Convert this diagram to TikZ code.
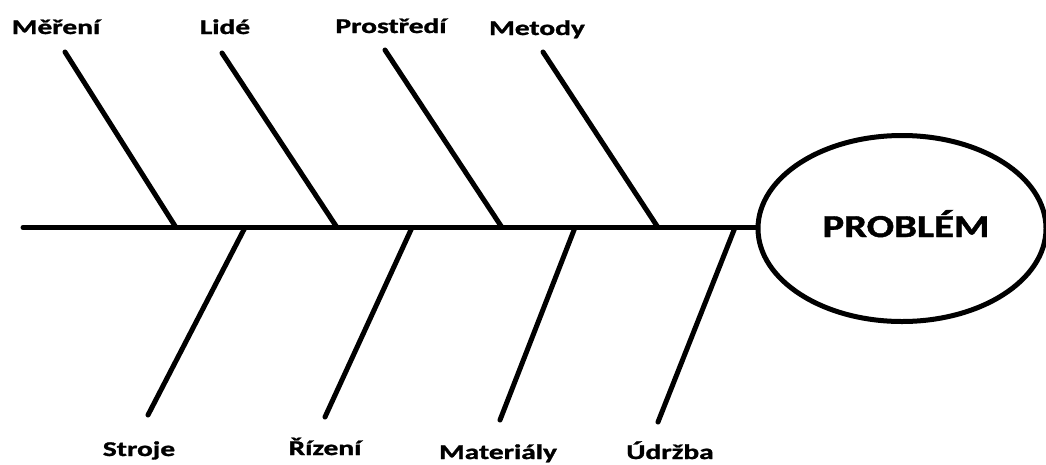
\documentclass[tikz,border=0pt]{standalone}
\usepackage{fontspec}
\setmainfont{Carlito}
\newfontfamily\lblfont{Carlito Bold}[FakeBold=1.2]
\usepackage{graphicx}
\usetikzlibrary{shapes.geometric}
\tikzset{
  bone/.style={line width=5pt, line cap=round, black},
  lbl/.style={anchor=base, inner sep=0pt, font=\fontsize{21}{24}\lblfont},
  head/.style={ellipse, draw, line width=5pt, minimum width=288pt, minimum height=186pt, inner sep=0pt}
}
\newcommand\wide[2]{\scalebox{#1}[1]{#2}}
\begin{document}
\begin{tikzpicture}[x=1pt,y=-1pt]
\useasboundingbox (0,0) rectangle (1046,464);
\node[head] (prob) at (902,228.5) {};
\node[anchor=base, inner sep=0pt, font=\fontsize{32}{36}\lblfont] (pt) at (906,237) {\wide{1.27}{PROBLÉM}};
\coordinate (tail) at (23,227.5);
\draw[bone] (tail) -- (tail -| prob.west);
% upper bones
\coordinate (u1) at (65,52);   \coordinate (s1) at (176,227.5);
\coordinate (u2) at (222,53);  \coordinate (s2) at (337,227.5);
\coordinate (u3) at (385,50);  \coordinate (s3) at (502,227.5);
\coordinate (u4) at (543,52);  \coordinate (s4) at (658,227.5);
\draw[bone] (u1) -- (s1);
\draw[bone] (u2) -- (s2);
\draw[bone] (u3) -- (s3);
\draw[bone] (u4) -- (s4);
% lower bones
\coordinate (t1) at (245,227.5); \coordinate (l1) at (148,415);
\coordinate (t2) at (412,227.5); \coordinate (l2) at (325,417);
\coordinate (t3) at (575,227.5); \coordinate (l3) at (500,420);
\coordinate (t4) at (735,227.5); \coordinate (l4) at (658,422);
\draw[bone] (t1) -- (l1);
\draw[bone] (t2) -- (l2);
\draw[bone] (t3) -- (l3);
\draw[bone] (t4) -- (l4);
% labels
\node[lbl] (n1) at (56,34) {\wide{1.4}{Měření}};
\node[lbl] (n2) at (225,34) {\wide{1.4}{Lidé}};
\node[lbl] (n3) at (391,33) {\wide{1.4}{Prostředí}};
\node[lbl] (n4) at (537,35) {\wide{1.4}{Metody}};
\node[lbl] (n5) at (139,456) {\wide{1.4}{Stroje}};
\node[lbl] (n6) at (325,455) {\wide{1.4}{Řízení}};
\node[lbl] (n7) at (498,459) {\wide{1.4}{Materiály}};
\node[lbl] (n8) at (670,459) {\wide{1.4}{Údržba}};
\end{tikzpicture}
\end{document}
